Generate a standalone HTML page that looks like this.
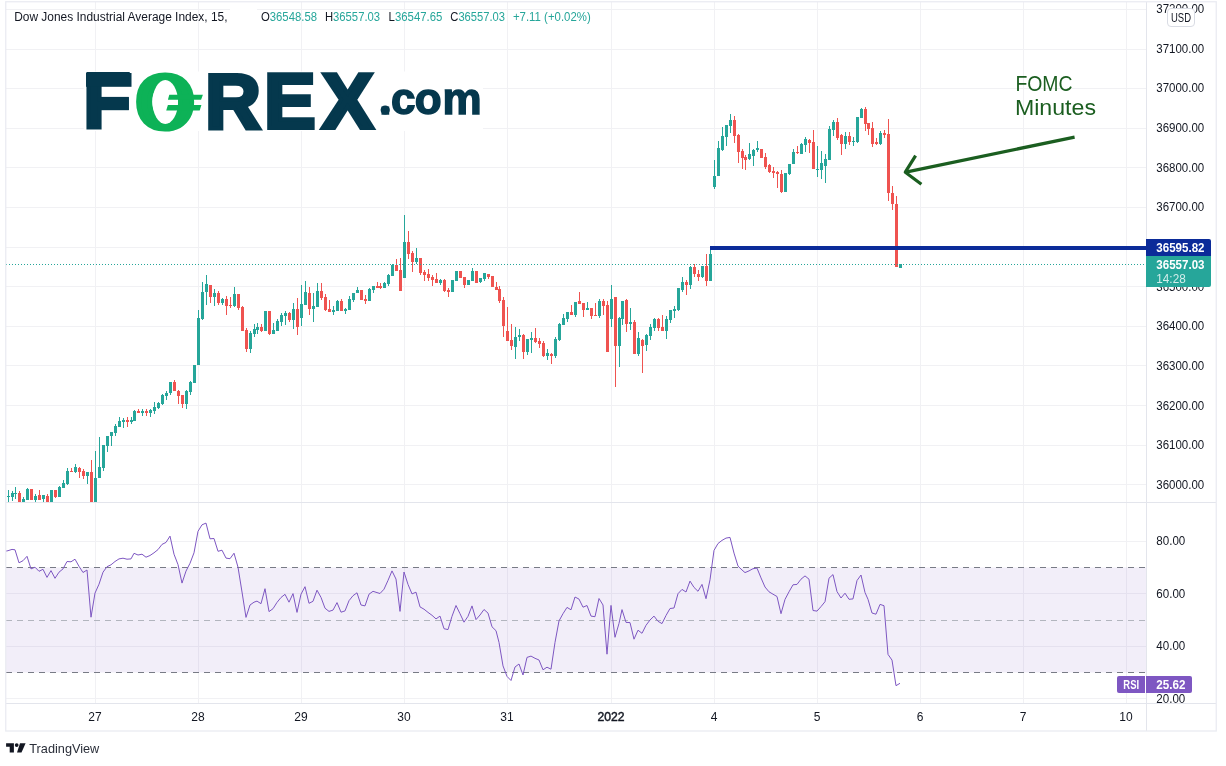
<!DOCTYPE html>
<html><head><meta charset="utf-8"><title>Dow Jones Industrial Average Index chart</title>
<style>html,body{margin:0;padding:0;background:#fff}svg{display:block}</style></head>
<body>
<svg width="1226" height="766" viewBox="0 0 1226 766" font-family="'Liberation Sans', sans-serif">
<rect width="1226" height="766" fill="#fff"/>
<g shape-rendering="crispEdges" stroke="#f1f1f4" stroke-width="1">
<line x1="95.5" y1="2" x2="95.5" y2="703"/>
<line x1="198.5" y1="2" x2="198.5" y2="703"/>
<line x1="301.5" y1="2" x2="301.5" y2="703"/>
<line x1="404.5" y1="2" x2="404.5" y2="703"/>
<line x1="507.5" y1="2" x2="507.5" y2="703"/>
<line x1="611.5" y1="2" x2="611.5" y2="703"/>
<line x1="714.5" y1="2" x2="714.5" y2="703"/>
<line x1="817.5" y1="2" x2="817.5" y2="703"/>
<line x1="920.5" y1="2" x2="920.5" y2="703"/>
<line x1="1023.5" y1="2" x2="1023.5" y2="703"/>
<line x1="1126.5" y1="2" x2="1126.5" y2="703"/>
<line x1="6" y1="484.5" x2="1146" y2="484.5"/>
<line x1="6" y1="445.5" x2="1146" y2="445.5"/>
<line x1="6" y1="405.5" x2="1146" y2="405.5"/>
<line x1="6" y1="365.5" x2="1146" y2="365.5"/>
<line x1="6" y1="326.5" x2="1146" y2="326.5"/>
<line x1="6" y1="286.5" x2="1146" y2="286.5"/>
<line x1="6" y1="247.5" x2="1146" y2="247.5"/>
<line x1="6" y1="207.5" x2="1146" y2="207.5"/>
<line x1="6" y1="167.5" x2="1146" y2="167.5"/>
<line x1="6" y1="128.5" x2="1146" y2="128.5"/>
<line x1="6" y1="88.5" x2="1146" y2="88.5"/>
<line x1="6" y1="49.5" x2="1146" y2="49.5"/>
<line x1="6" y1="9.5" x2="1146" y2="9.5"/>
<line x1="6" y1="698.5" x2="1146" y2="698.5"/>
<line x1="6" y1="646.5" x2="1146" y2="646.5"/>
<line x1="6" y1="593.5" x2="1146" y2="593.5"/>
<line x1="6" y1="541.5" x2="1146" y2="541.5"/>
</g>
<rect x="6" y="567.5" width="1140" height="105" fill="#7e57c2" fill-opacity="0.1"/>
<g shape-rendering="crispEdges" stroke-width="1" stroke-dasharray="6 5">
<line x1="6" y1="567.5" x2="1146" y2="567.5" stroke="#787b86"/>
<line x1="6" y1="620.5" x2="1146" y2="620.5" stroke="#b2b5be"/>
<line x1="6" y1="672.5" x2="1146" y2="672.5" stroke="#787b86"/>
</g>
<rect x="83.7" y="71.5" width="399.3" height="59.5" fill="#fff"/>
<g font-weight="bold" stroke-linejoin="miter">
<text y="128.2" font-size="77.5" fill="#05384d" stroke="#05384d" stroke-width="4"><tspan x="83.2" textLength="48">F</tspan><tspan x="135.5" y="127.85" font-size="76.3" stroke-width="5" fill="#0db257" stroke="#0db257">O</tspan><tspan x="205" y="128.2">R</tspan><tspan x="263.9">E</tspan><tspan x="321.8">X</tspan></text>
<ellipse cx="165.3" cy="102" rx="12.7" ry="22" fill="#fff"/>
<path d="M169.3 94.8H202.9L201.1 99.8H167.9zM167.9 105.1H201.4L199.7 110.4H166.2z" fill="#0db257"/>
<rect x="86" y="73" width="45.5" height="13.8" fill="#05384d"/><rect x="100" y="96.9" width="28.8" height="13.3" fill="#05384d"/>
<text x="379.2 391 414.7 442.6" y="114.2" font-size="44" fill="#05384d" stroke="#05384d" stroke-width="1.5">.com</text>
<circle cx="385.2" cy="110" r="4.6" fill="#05384d"/>
</g>
<g shape-rendering="crispEdges">
<rect x="8" y="490" width="1" height="12" fill="#26a69a"/>
<rect x="7" y="496" width="3" height="1" fill="#26a69a"/>
<rect x="12" y="491" width="1" height="10" fill="#26a69a"/>
<rect x="11" y="493" width="3" height="4" fill="#26a69a"/>
<rect x="15" y="487" width="1" height="12" fill="#26a69a"/>
<rect x="14" y="493" width="3" height="1" fill="#26a69a"/>
<rect x="19" y="491" width="1" height="11" fill="#ef5350"/>
<rect x="18" y="493" width="3" height="9" fill="#ef5350"/>
<rect x="23" y="497" width="1" height="5" fill="#26a69a"/>
<rect x="22" y="499" width="3" height="3" fill="#26a69a"/>
<rect x="27" y="488" width="1" height="12" fill="#26a69a"/>
<rect x="26" y="489" width="3" height="11" fill="#26a69a"/>
<rect x="31" y="489" width="1" height="11" fill="#ef5350"/>
<rect x="30" y="489" width="3" height="11" fill="#ef5350"/>
<rect x="35" y="494" width="1" height="8" fill="#26a69a"/>
<rect x="34" y="496" width="3" height="4" fill="#26a69a"/>
<rect x="39" y="490" width="1" height="10" fill="#ef5350"/>
<rect x="38" y="495" width="3" height="5" fill="#ef5350"/>
<rect x="43" y="495" width="1" height="7" fill="#26a69a"/>
<rect x="42" y="495" width="3" height="4" fill="#26a69a"/>
<rect x="47" y="494" width="1" height="8" fill="#ef5350"/>
<rect x="46" y="496" width="3" height="6" fill="#ef5350"/>
<rect x="51" y="490" width="1" height="12" fill="#26a69a"/>
<rect x="50" y="490" width="3" height="12" fill="#26a69a"/>
<rect x="55" y="490" width="1" height="8" fill="#ef5350"/>
<rect x="54" y="490" width="3" height="7" fill="#ef5350"/>
<rect x="59" y="486" width="1" height="11" fill="#26a69a"/>
<rect x="58" y="487" width="3" height="10" fill="#26a69a"/>
<rect x="63" y="480" width="1" height="8" fill="#26a69a"/>
<rect x="62" y="483" width="3" height="5" fill="#26a69a"/>
<rect x="67" y="468" width="1" height="17" fill="#26a69a"/>
<rect x="66" y="471" width="3" height="13" fill="#26a69a"/>
<rect x="71" y="468" width="1" height="4" fill="#ef5350"/>
<rect x="70" y="471" width="3" height="1" fill="#ef5350"/>
<rect x="75" y="464" width="1" height="9" fill="#26a69a"/>
<rect x="74" y="467" width="3" height="5" fill="#26a69a"/>
<rect x="79" y="467" width="1" height="11" fill="#ef5350"/>
<rect x="78" y="468" width="3" height="4" fill="#ef5350"/>
<rect x="83" y="469" width="1" height="10" fill="#ef5350"/>
<rect x="82" y="471" width="3" height="5" fill="#ef5350"/>
<rect x="87" y="472" width="1" height="12" fill="#26a69a"/>
<rect x="86" y="472" width="3" height="4" fill="#26a69a"/>
<rect x="91" y="460" width="1" height="42" fill="#ef5350"/>
<rect x="90" y="472" width="3" height="30" fill="#ef5350"/>
<rect x="95" y="451" width="1" height="51" fill="#26a69a"/>
<rect x="94" y="478" width="3" height="24" fill="#26a69a"/>
<rect x="99" y="437" width="1" height="41" fill="#26a69a"/>
<rect x="98" y="467" width="3" height="11" fill="#26a69a"/>
<rect x="103" y="445" width="1" height="26" fill="#26a69a"/>
<rect x="102" y="445" width="3" height="23" fill="#26a69a"/>
<rect x="107" y="436" width="1" height="16" fill="#26a69a"/>
<rect x="106" y="436" width="3" height="10" fill="#26a69a"/>
<rect x="111" y="432" width="1" height="14" fill="#26a69a"/>
<rect x="110" y="432" width="3" height="4" fill="#26a69a"/>
<rect x="115" y="424" width="1" height="12" fill="#26a69a"/>
<rect x="114" y="426" width="3" height="7" fill="#26a69a"/>
<rect x="119" y="417" width="1" height="10" fill="#26a69a"/>
<rect x="118" y="421" width="3" height="6" fill="#26a69a"/>
<rect x="123" y="418" width="1" height="10" fill="#26a69a"/>
<rect x="122" y="420" width="3" height="2" fill="#26a69a"/>
<rect x="127" y="417" width="1" height="10" fill="#ef5350"/>
<rect x="126" y="420" width="3" height="2" fill="#ef5350"/>
<rect x="131" y="417" width="1" height="7" fill="#26a69a"/>
<rect x="130" y="420" width="3" height="2" fill="#26a69a"/>
<rect x="134" y="410" width="1" height="11" fill="#26a69a"/>
<rect x="133" y="411" width="3" height="10" fill="#26a69a"/>
<rect x="138" y="409" width="1" height="4" fill="#ef5350"/>
<rect x="137" y="411" width="3" height="2" fill="#ef5350"/>
<rect x="142" y="409" width="1" height="7" fill="#26a69a"/>
<rect x="141" y="411" width="3" height="2" fill="#26a69a"/>
<rect x="146" y="409" width="1" height="7" fill="#ef5350"/>
<rect x="145" y="411" width="3" height="2" fill="#ef5350"/>
<rect x="150" y="409" width="1" height="8" fill="#26a69a"/>
<rect x="149" y="410" width="3" height="3" fill="#26a69a"/>
<rect x="154" y="402" width="1" height="12" fill="#26a69a"/>
<rect x="153" y="407" width="3" height="4" fill="#26a69a"/>
<rect x="158" y="402" width="1" height="7" fill="#26a69a"/>
<rect x="157" y="403" width="3" height="5" fill="#26a69a"/>
<rect x="162" y="394" width="1" height="11" fill="#26a69a"/>
<rect x="161" y="395" width="3" height="9" fill="#26a69a"/>
<rect x="166" y="391" width="1" height="9" fill="#26a69a"/>
<rect x="165" y="393" width="3" height="3" fill="#26a69a"/>
<rect x="170" y="382" width="1" height="13" fill="#26a69a"/>
<rect x="169" y="382" width="3" height="11" fill="#26a69a"/>
<rect x="174" y="380" width="1" height="11" fill="#ef5350"/>
<rect x="173" y="382" width="3" height="9" fill="#ef5350"/>
<rect x="178" y="390" width="1" height="14" fill="#ef5350"/>
<rect x="177" y="391" width="3" height="5" fill="#ef5350"/>
<rect x="182" y="395" width="1" height="13" fill="#ef5350"/>
<rect x="181" y="395" width="3" height="9" fill="#ef5350"/>
<rect x="186" y="390" width="1" height="19" fill="#26a69a"/>
<rect x="185" y="391" width="3" height="13" fill="#26a69a"/>
<rect x="190" y="381" width="1" height="14" fill="#26a69a"/>
<rect x="189" y="382" width="3" height="10" fill="#26a69a"/>
<rect x="194" y="365" width="1" height="18" fill="#26a69a"/>
<rect x="193" y="365" width="3" height="18" fill="#26a69a"/>
<rect x="198" y="310" width="1" height="55" fill="#26a69a"/>
<rect x="197" y="318" width="3" height="47" fill="#26a69a"/>
<rect x="202" y="282" width="1" height="38" fill="#26a69a"/>
<rect x="201" y="292" width="3" height="27" fill="#26a69a"/>
<rect x="206" y="275" width="1" height="30" fill="#26a69a"/>
<rect x="205" y="284" width="3" height="8" fill="#26a69a"/>
<rect x="210" y="285" width="1" height="18" fill="#ef5350"/>
<rect x="209" y="285" width="3" height="12" fill="#ef5350"/>
<rect x="214" y="289" width="1" height="17" fill="#26a69a"/>
<rect x="213" y="293" width="3" height="4" fill="#26a69a"/>
<rect x="218" y="291" width="1" height="14" fill="#ef5350"/>
<rect x="217" y="293" width="3" height="10" fill="#ef5350"/>
<rect x="222" y="298" width="1" height="7" fill="#26a69a"/>
<rect x="221" y="299" width="3" height="4" fill="#26a69a"/>
<rect x="226" y="296" width="1" height="19" fill="#ef5350"/>
<rect x="225" y="299" width="3" height="7" fill="#ef5350"/>
<rect x="230" y="297" width="1" height="11" fill="#ef5350"/>
<rect x="229" y="305" width="3" height="1" fill="#ef5350"/>
<rect x="234" y="287" width="1" height="20" fill="#26a69a"/>
<rect x="233" y="294" width="3" height="12" fill="#26a69a"/>
<rect x="238" y="294" width="1" height="16" fill="#ef5350"/>
<rect x="237" y="294" width="3" height="14" fill="#ef5350"/>
<rect x="242" y="306" width="1" height="25" fill="#ef5350"/>
<rect x="241" y="307" width="3" height="24" fill="#ef5350"/>
<rect x="246" y="328" width="1" height="24" fill="#ef5350"/>
<rect x="245" y="330" width="3" height="19" fill="#ef5350"/>
<rect x="250" y="331" width="1" height="22" fill="#26a69a"/>
<rect x="249" y="333" width="3" height="16" fill="#26a69a"/>
<rect x="254" y="324" width="1" height="13" fill="#26a69a"/>
<rect x="253" y="329" width="3" height="5" fill="#26a69a"/>
<rect x="257" y="323" width="1" height="11" fill="#26a69a"/>
<rect x="256" y="327" width="3" height="3" fill="#26a69a"/>
<rect x="261" y="324" width="1" height="8" fill="#ef5350"/>
<rect x="260" y="327" width="3" height="4" fill="#ef5350"/>
<rect x="265" y="311" width="1" height="20" fill="#26a69a"/>
<rect x="264" y="311" width="3" height="20" fill="#26a69a"/>
<rect x="269" y="311" width="1" height="24" fill="#ef5350"/>
<rect x="268" y="311" width="3" height="23" fill="#ef5350"/>
<rect x="273" y="323" width="1" height="11" fill="#26a69a"/>
<rect x="272" y="330" width="3" height="4" fill="#26a69a"/>
<rect x="277" y="319" width="1" height="12" fill="#26a69a"/>
<rect x="276" y="321" width="3" height="10" fill="#26a69a"/>
<rect x="281" y="313" width="1" height="13" fill="#26a69a"/>
<rect x="280" y="315" width="3" height="7" fill="#26a69a"/>
<rect x="285" y="311" width="1" height="14" fill="#26a69a"/>
<rect x="284" y="313" width="3" height="3" fill="#26a69a"/>
<rect x="289" y="312" width="1" height="10" fill="#ef5350"/>
<rect x="288" y="313" width="3" height="7" fill="#ef5350"/>
<rect x="293" y="303" width="1" height="26" fill="#26a69a"/>
<rect x="292" y="309" width="3" height="11" fill="#26a69a"/>
<rect x="297" y="298" width="1" height="37" fill="#ef5350"/>
<rect x="296" y="309" width="3" height="18" fill="#ef5350"/>
<rect x="301" y="285" width="1" height="41" fill="#26a69a"/>
<rect x="300" y="304" width="3" height="14" fill="#26a69a"/>
<rect x="305" y="281" width="1" height="24" fill="#26a69a"/>
<rect x="304" y="292" width="3" height="13" fill="#26a69a"/>
<rect x="309" y="287" width="1" height="28" fill="#ef5350"/>
<rect x="308" y="293" width="3" height="16" fill="#ef5350"/>
<rect x="313" y="293" width="1" height="29" fill="#26a69a"/>
<rect x="312" y="306" width="3" height="3" fill="#26a69a"/>
<rect x="317" y="283" width="1" height="24" fill="#26a69a"/>
<rect x="316" y="291" width="3" height="16" fill="#26a69a"/>
<rect x="321" y="283" width="1" height="17" fill="#ef5350"/>
<rect x="320" y="291" width="3" height="7" fill="#ef5350"/>
<rect x="325" y="294" width="1" height="17" fill="#ef5350"/>
<rect x="324" y="297" width="3" height="13" fill="#ef5350"/>
<rect x="329" y="300" width="1" height="12" fill="#ef5350"/>
<rect x="328" y="309" width="3" height="3" fill="#ef5350"/>
<rect x="333" y="306" width="1" height="9" fill="#26a69a"/>
<rect x="332" y="310" width="3" height="2" fill="#26a69a"/>
<rect x="337" y="300" width="1" height="11" fill="#26a69a"/>
<rect x="336" y="301" width="3" height="10" fill="#26a69a"/>
<rect x="341" y="299" width="1" height="12" fill="#ef5350"/>
<rect x="340" y="301" width="3" height="10" fill="#ef5350"/>
<rect x="345" y="308" width="1" height="6" fill="#26a69a"/>
<rect x="344" y="309" width="3" height="2" fill="#26a69a"/>
<rect x="349" y="296" width="1" height="14" fill="#26a69a"/>
<rect x="348" y="299" width="3" height="11" fill="#26a69a"/>
<rect x="353" y="293" width="1" height="9" fill="#26a69a"/>
<rect x="352" y="293" width="3" height="7" fill="#26a69a"/>
<rect x="357" y="287" width="1" height="6" fill="#26a69a"/>
<rect x="356" y="290" width="3" height="3" fill="#26a69a"/>
<rect x="361" y="290" width="1" height="10" fill="#ef5350"/>
<rect x="360" y="290" width="3" height="10" fill="#ef5350"/>
<rect x="365" y="295" width="1" height="9" fill="#ef5350"/>
<rect x="364" y="299" width="3" height="2" fill="#ef5350"/>
<rect x="369" y="288" width="1" height="13" fill="#26a69a"/>
<rect x="368" y="289" width="3" height="12" fill="#26a69a"/>
<rect x="373" y="286" width="1" height="7" fill="#26a69a"/>
<rect x="372" y="286" width="3" height="4" fill="#26a69a"/>
<rect x="377" y="282" width="1" height="6" fill="#ef5350"/>
<rect x="376" y="286" width="3" height="2" fill="#ef5350"/>
<rect x="380" y="283" width="1" height="6" fill="#ef5350"/>
<rect x="379" y="286" width="3" height="2" fill="#ef5350"/>
<rect x="384" y="282" width="1" height="6" fill="#26a69a"/>
<rect x="383" y="283" width="3" height="5" fill="#26a69a"/>
<rect x="388" y="274" width="1" height="12" fill="#26a69a"/>
<rect x="387" y="275" width="3" height="9" fill="#26a69a"/>
<rect x="392" y="264" width="1" height="12" fill="#26a69a"/>
<rect x="391" y="265" width="3" height="11" fill="#26a69a"/>
<rect x="396" y="259" width="1" height="12" fill="#ef5350"/>
<rect x="395" y="265" width="3" height="6" fill="#ef5350"/>
<rect x="400" y="258" width="1" height="33" fill="#ef5350"/>
<rect x="399" y="270" width="3" height="21" fill="#ef5350"/>
<rect x="404" y="215" width="1" height="63" fill="#26a69a"/>
<rect x="403" y="242" width="3" height="36" fill="#26a69a"/>
<rect x="408" y="231" width="1" height="28" fill="#ef5350"/>
<rect x="407" y="242" width="3" height="12" fill="#ef5350"/>
<rect x="412" y="251" width="1" height="21" fill="#ef5350"/>
<rect x="411" y="253" width="3" height="9" fill="#ef5350"/>
<rect x="416" y="248" width="1" height="16" fill="#26a69a"/>
<rect x="415" y="258" width="3" height="4" fill="#26a69a"/>
<rect x="420" y="258" width="1" height="17" fill="#ef5350"/>
<rect x="419" y="258" width="3" height="15" fill="#ef5350"/>
<rect x="424" y="270" width="1" height="11" fill="#ef5350"/>
<rect x="423" y="272" width="3" height="3" fill="#ef5350"/>
<rect x="428" y="269" width="1" height="12" fill="#ef5350"/>
<rect x="427" y="274" width="3" height="4" fill="#ef5350"/>
<rect x="432" y="275" width="1" height="11" fill="#ef5350"/>
<rect x="431" y="277" width="3" height="3" fill="#ef5350"/>
<rect x="436" y="273" width="1" height="10" fill="#ef5350"/>
<rect x="435" y="279" width="3" height="4" fill="#ef5350"/>
<rect x="440" y="279" width="1" height="6" fill="#26a69a"/>
<rect x="439" y="280" width="3" height="3" fill="#26a69a"/>
<rect x="444" y="279" width="1" height="13" fill="#ef5350"/>
<rect x="443" y="280" width="3" height="11" fill="#ef5350"/>
<rect x="448" y="288" width="1" height="9" fill="#ef5350"/>
<rect x="447" y="290" width="3" height="2" fill="#ef5350"/>
<rect x="452" y="280" width="1" height="12" fill="#26a69a"/>
<rect x="451" y="280" width="3" height="12" fill="#26a69a"/>
<rect x="456" y="271" width="1" height="10" fill="#26a69a"/>
<rect x="455" y="271" width="3" height="10" fill="#26a69a"/>
<rect x="460" y="271" width="1" height="7" fill="#ef5350"/>
<rect x="459" y="271" width="3" height="7" fill="#ef5350"/>
<rect x="464" y="277" width="1" height="11" fill="#ef5350"/>
<rect x="463" y="277" width="3" height="8" fill="#ef5350"/>
<rect x="468" y="280" width="1" height="5" fill="#26a69a"/>
<rect x="467" y="280" width="3" height="5" fill="#26a69a"/>
<rect x="472" y="268" width="1" height="13" fill="#26a69a"/>
<rect x="471" y="271" width="3" height="10" fill="#26a69a"/>
<rect x="476" y="271" width="1" height="12" fill="#ef5350"/>
<rect x="475" y="271" width="3" height="12" fill="#ef5350"/>
<rect x="480" y="278" width="1" height="5" fill="#26a69a"/>
<rect x="479" y="278" width="3" height="4" fill="#26a69a"/>
<rect x="484" y="273" width="1" height="8" fill="#26a69a"/>
<rect x="483" y="273" width="3" height="6" fill="#26a69a"/>
<rect x="488" y="274" width="1" height="5" fill="#ef5350"/>
<rect x="487" y="274" width="3" height="3" fill="#ef5350"/>
<rect x="492" y="276" width="1" height="11" fill="#ef5350"/>
<rect x="491" y="276" width="3" height="11" fill="#ef5350"/>
<rect x="496" y="282" width="1" height="8" fill="#ef5350"/>
<rect x="495" y="287" width="3" height="3" fill="#ef5350"/>
<rect x="499" y="286" width="1" height="17" fill="#ef5350"/>
<rect x="498" y="289" width="3" height="12" fill="#ef5350"/>
<rect x="503" y="297" width="1" height="40" fill="#ef5350"/>
<rect x="502" y="300" width="3" height="26" fill="#ef5350"/>
<rect x="507" y="307" width="1" height="34" fill="#ef5350"/>
<rect x="506" y="331" width="3" height="10" fill="#ef5350"/>
<rect x="511" y="324" width="1" height="26" fill="#ef5350"/>
<rect x="510" y="340" width="3" height="6" fill="#ef5350"/>
<rect x="515" y="327" width="1" height="32" fill="#26a69a"/>
<rect x="514" y="337" width="3" height="10" fill="#26a69a"/>
<rect x="519" y="329" width="1" height="12" fill="#26a69a"/>
<rect x="518" y="335" width="3" height="2" fill="#26a69a"/>
<rect x="523" y="334" width="1" height="25" fill="#ef5350"/>
<rect x="522" y="335" width="3" height="17" fill="#ef5350"/>
<rect x="527" y="339" width="1" height="16" fill="#26a69a"/>
<rect x="526" y="339" width="3" height="13" fill="#26a69a"/>
<rect x="531" y="332" width="1" height="21" fill="#26a69a"/>
<rect x="530" y="338" width="3" height="2" fill="#26a69a"/>
<rect x="535" y="328" width="1" height="15" fill="#ef5350"/>
<rect x="534" y="338" width="3" height="4" fill="#ef5350"/>
<rect x="539" y="338" width="1" height="10" fill="#ef5350"/>
<rect x="538" y="341" width="3" height="3" fill="#ef5350"/>
<rect x="543" y="341" width="1" height="16" fill="#ef5350"/>
<rect x="542" y="343" width="3" height="13" fill="#ef5350"/>
<rect x="547" y="349" width="1" height="11" fill="#26a69a"/>
<rect x="546" y="353" width="3" height="3" fill="#26a69a"/>
<rect x="551" y="353" width="1" height="11" fill="#ef5350"/>
<rect x="550" y="354" width="3" height="2" fill="#ef5350"/>
<rect x="555" y="337" width="1" height="21" fill="#26a69a"/>
<rect x="554" y="339" width="3" height="17" fill="#26a69a"/>
<rect x="559" y="323" width="1" height="18" fill="#26a69a"/>
<rect x="558" y="324" width="3" height="16" fill="#26a69a"/>
<rect x="563" y="314" width="1" height="11" fill="#26a69a"/>
<rect x="562" y="318" width="3" height="7" fill="#26a69a"/>
<rect x="567" y="312" width="1" height="10" fill="#26a69a"/>
<rect x="566" y="312" width="3" height="7" fill="#26a69a"/>
<rect x="571" y="305" width="1" height="10" fill="#ef5350"/>
<rect x="570" y="312" width="3" height="3" fill="#ef5350"/>
<rect x="575" y="302" width="1" height="15" fill="#26a69a"/>
<rect x="574" y="302" width="3" height="13" fill="#26a69a"/>
<rect x="579" y="292" width="1" height="12" fill="#ef5350"/>
<rect x="578" y="301" width="3" height="3" fill="#ef5350"/>
<rect x="583" y="303" width="1" height="14" fill="#ef5350"/>
<rect x="582" y="303" width="3" height="7" fill="#ef5350"/>
<rect x="587" y="302" width="1" height="8" fill="#26a69a"/>
<rect x="586" y="308" width="3" height="2" fill="#26a69a"/>
<rect x="591" y="308" width="1" height="11" fill="#ef5350"/>
<rect x="590" y="308" width="3" height="8" fill="#ef5350"/>
<rect x="595" y="303" width="1" height="13" fill="#ef5350"/>
<rect x="594" y="315" width="3" height="1" fill="#ef5350"/>
<rect x="599" y="299" width="1" height="19" fill="#26a69a"/>
<rect x="598" y="301" width="3" height="15" fill="#26a69a"/>
<rect x="603" y="299" width="1" height="16" fill="#ef5350"/>
<rect x="602" y="301" width="3" height="5" fill="#ef5350"/>
<rect x="607" y="301" width="1" height="51" fill="#ef5350"/>
<rect x="606" y="305" width="3" height="47" fill="#ef5350"/>
<rect x="611" y="285" width="1" height="42" fill="#26a69a"/>
<rect x="610" y="299" width="3" height="20" fill="#26a69a"/>
<rect x="615" y="297" width="1" height="90" fill="#ef5350"/>
<rect x="614" y="297" width="3" height="49" fill="#ef5350"/>
<rect x="619" y="317" width="1" height="50" fill="#26a69a"/>
<rect x="618" y="318" width="3" height="28" fill="#26a69a"/>
<rect x="622" y="301" width="1" height="24" fill="#26a69a"/>
<rect x="621" y="301" width="3" height="18" fill="#26a69a"/>
<rect x="626" y="299" width="1" height="33" fill="#ef5350"/>
<rect x="625" y="300" width="3" height="24" fill="#ef5350"/>
<rect x="630" y="308" width="1" height="22" fill="#26a69a"/>
<rect x="629" y="322" width="3" height="2" fill="#26a69a"/>
<rect x="634" y="320" width="1" height="34" fill="#ef5350"/>
<rect x="633" y="322" width="3" height="32" fill="#ef5350"/>
<rect x="638" y="332" width="1" height="24" fill="#26a69a"/>
<rect x="637" y="338" width="3" height="16" fill="#26a69a"/>
<rect x="642" y="339" width="1" height="34" fill="#ef5350"/>
<rect x="641" y="340" width="3" height="6" fill="#ef5350"/>
<rect x="646" y="334" width="1" height="17" fill="#26a69a"/>
<rect x="645" y="335" width="3" height="10" fill="#26a69a"/>
<rect x="650" y="324" width="1" height="16" fill="#26a69a"/>
<rect x="649" y="327" width="3" height="9" fill="#26a69a"/>
<rect x="654" y="318" width="1" height="13" fill="#26a69a"/>
<rect x="653" y="319" width="3" height="9" fill="#26a69a"/>
<rect x="658" y="318" width="1" height="13" fill="#ef5350"/>
<rect x="657" y="319" width="3" height="9" fill="#ef5350"/>
<rect x="662" y="315" width="1" height="16" fill="#ef5350"/>
<rect x="661" y="327" width="3" height="4" fill="#ef5350"/>
<rect x="666" y="316" width="1" height="23" fill="#26a69a"/>
<rect x="665" y="319" width="3" height="12" fill="#26a69a"/>
<rect x="670" y="310" width="1" height="13" fill="#26a69a"/>
<rect x="669" y="310" width="3" height="10" fill="#26a69a"/>
<rect x="674" y="306" width="1" height="12" fill="#26a69a"/>
<rect x="673" y="309" width="3" height="2" fill="#26a69a"/>
<rect x="678" y="288" width="1" height="23" fill="#26a69a"/>
<rect x="677" y="288" width="3" height="22" fill="#26a69a"/>
<rect x="682" y="277" width="1" height="15" fill="#26a69a"/>
<rect x="681" y="282" width="3" height="8" fill="#26a69a"/>
<rect x="686" y="280" width="1" height="15" fill="#ef5350"/>
<rect x="685" y="282" width="3" height="3" fill="#ef5350"/>
<rect x="690" y="266" width="1" height="23" fill="#26a69a"/>
<rect x="689" y="267" width="3" height="18" fill="#26a69a"/>
<rect x="694" y="264" width="1" height="13" fill="#ef5350"/>
<rect x="693" y="267" width="3" height="7" fill="#ef5350"/>
<rect x="698" y="270" width="1" height="11" fill="#ef5350"/>
<rect x="697" y="274" width="3" height="3" fill="#ef5350"/>
<rect x="702" y="266" width="1" height="12" fill="#26a69a"/>
<rect x="701" y="266" width="3" height="11" fill="#26a69a"/>
<rect x="706" y="254" width="1" height="32" fill="#ef5350"/>
<rect x="705" y="266" width="3" height="15" fill="#ef5350"/>
<rect x="710" y="248" width="1" height="33" fill="#26a69a"/>
<rect x="709" y="254" width="3" height="27" fill="#26a69a"/>
<rect x="714" y="160" width="1" height="29" fill="#26a69a"/>
<rect x="713" y="176" width="3" height="11" fill="#26a69a"/>
<rect x="718" y="141" width="1" height="35" fill="#26a69a"/>
<rect x="717" y="148" width="3" height="28" fill="#26a69a"/>
<rect x="722" y="127" width="1" height="24" fill="#26a69a"/>
<rect x="721" y="136" width="3" height="14" fill="#26a69a"/>
<rect x="726" y="125" width="1" height="21" fill="#26a69a"/>
<rect x="725" y="125" width="3" height="12" fill="#26a69a"/>
<rect x="730" y="114" width="1" height="19" fill="#26a69a"/>
<rect x="729" y="120" width="3" height="6" fill="#26a69a"/>
<rect x="734" y="116" width="1" height="27" fill="#ef5350"/>
<rect x="733" y="120" width="3" height="16" fill="#ef5350"/>
<rect x="738" y="134" width="1" height="29" fill="#ef5350"/>
<rect x="737" y="135" width="3" height="17" fill="#ef5350"/>
<rect x="742" y="149" width="1" height="20" fill="#ef5350"/>
<rect x="741" y="151" width="3" height="7" fill="#ef5350"/>
<rect x="745" y="155" width="1" height="15" fill="#ef5350"/>
<rect x="744" y="157" width="3" height="3" fill="#ef5350"/>
<rect x="749" y="143" width="1" height="17" fill="#26a69a"/>
<rect x="748" y="154" width="3" height="5" fill="#26a69a"/>
<rect x="753" y="149" width="1" height="17" fill="#26a69a"/>
<rect x="752" y="150" width="3" height="6" fill="#26a69a"/>
<rect x="757" y="141" width="1" height="11" fill="#26a69a"/>
<rect x="756" y="148" width="3" height="2" fill="#26a69a"/>
<rect x="761" y="149" width="1" height="9" fill="#ef5350"/>
<rect x="760" y="149" width="3" height="9" fill="#ef5350"/>
<rect x="765" y="153" width="1" height="16" fill="#ef5350"/>
<rect x="764" y="157" width="3" height="10" fill="#ef5350"/>
<rect x="769" y="164" width="1" height="9" fill="#ef5350"/>
<rect x="768" y="165" width="3" height="7" fill="#ef5350"/>
<rect x="773" y="167" width="1" height="11" fill="#ef5350"/>
<rect x="772" y="171" width="3" height="2" fill="#ef5350"/>
<rect x="777" y="171" width="1" height="17" fill="#ef5350"/>
<rect x="776" y="172" width="3" height="2" fill="#ef5350"/>
<rect x="781" y="170" width="1" height="23" fill="#ef5350"/>
<rect x="780" y="174" width="3" height="18" fill="#ef5350"/>
<rect x="785" y="173" width="1" height="19" fill="#26a69a"/>
<rect x="784" y="173" width="3" height="19" fill="#26a69a"/>
<rect x="789" y="164" width="1" height="11" fill="#26a69a"/>
<rect x="788" y="164" width="3" height="10" fill="#26a69a"/>
<rect x="793" y="149" width="1" height="15" fill="#26a69a"/>
<rect x="792" y="152" width="3" height="12" fill="#26a69a"/>
<rect x="797" y="146" width="1" height="8" fill="#ef5350"/>
<rect x="796" y="152" width="3" height="1" fill="#ef5350"/>
<rect x="801" y="143" width="1" height="11" fill="#26a69a"/>
<rect x="800" y="144" width="3" height="10" fill="#26a69a"/>
<rect x="805" y="137" width="1" height="15" fill="#26a69a"/>
<rect x="804" y="139" width="3" height="6" fill="#26a69a"/>
<rect x="809" y="139" width="1" height="14" fill="#ef5350"/>
<rect x="808" y="140" width="3" height="3" fill="#ef5350"/>
<rect x="813" y="130" width="1" height="39" fill="#ef5350"/>
<rect x="812" y="142" width="3" height="27" fill="#ef5350"/>
<rect x="817" y="146" width="1" height="31" fill="#26a69a"/>
<rect x="816" y="169" width="3" height="1" fill="#26a69a"/>
<rect x="821" y="151" width="1" height="28" fill="#26a69a"/>
<rect x="820" y="163" width="3" height="7" fill="#26a69a"/>
<rect x="825" y="154" width="1" height="29" fill="#26a69a"/>
<rect x="824" y="159" width="3" height="7" fill="#26a69a"/>
<rect x="829" y="126" width="1" height="34" fill="#26a69a"/>
<rect x="828" y="129" width="3" height="31" fill="#26a69a"/>
<rect x="833" y="120" width="1" height="16" fill="#26a69a"/>
<rect x="832" y="122" width="3" height="8" fill="#26a69a"/>
<rect x="837" y="118" width="1" height="22" fill="#ef5350"/>
<rect x="836" y="122" width="3" height="16" fill="#ef5350"/>
<rect x="841" y="134" width="1" height="21" fill="#ef5350"/>
<rect x="840" y="135" width="3" height="9" fill="#ef5350"/>
<rect x="845" y="132" width="1" height="17" fill="#26a69a"/>
<rect x="844" y="136" width="3" height="8" fill="#26a69a"/>
<rect x="849" y="132" width="1" height="13" fill="#ef5350"/>
<rect x="848" y="136" width="3" height="6" fill="#ef5350"/>
<rect x="853" y="137" width="1" height="9" fill="#26a69a"/>
<rect x="852" y="141" width="3" height="1" fill="#26a69a"/>
<rect x="857" y="117" width="1" height="26" fill="#26a69a"/>
<rect x="856" y="117" width="3" height="25" fill="#26a69a"/>
<rect x="861" y="108" width="1" height="10" fill="#26a69a"/>
<rect x="860" y="109" width="3" height="9" fill="#26a69a"/>
<rect x="865" y="107" width="1" height="24" fill="#ef5350"/>
<rect x="864" y="109" width="3" height="15" fill="#ef5350"/>
<rect x="868" y="123" width="1" height="12" fill="#ef5350"/>
<rect x="867" y="123" width="3" height="6" fill="#ef5350"/>
<rect x="872" y="122" width="1" height="25" fill="#ef5350"/>
<rect x="871" y="128" width="3" height="16" fill="#ef5350"/>
<rect x="876" y="138" width="1" height="7" fill="#ef5350"/>
<rect x="875" y="142" width="3" height="2" fill="#ef5350"/>
<rect x="880" y="131" width="1" height="14" fill="#26a69a"/>
<rect x="879" y="133" width="3" height="11" fill="#26a69a"/>
<rect x="884" y="130" width="1" height="8" fill="#ef5350"/>
<rect x="883" y="133" width="3" height="2" fill="#ef5350"/>
<rect x="888" y="119" width="1" height="82" fill="#ef5350"/>
<rect x="887" y="134" width="3" height="59" fill="#ef5350"/>
<rect x="892" y="186" width="1" height="24" fill="#ef5350"/>
<rect x="891" y="193" width="3" height="11" fill="#ef5350"/>
<rect x="896" y="196" width="1" height="71" fill="#ef5350"/>
<rect x="895" y="204" width="3" height="63" fill="#ef5350"/>
<rect x="900" y="264" width="1" height="4" fill="#26a69a"/>
<rect x="899" y="264" width="3" height="4" fill="#26a69a"/>
</g>
<line x1="6" y1="264.5" x2="1146" y2="264.5" stroke="#26a69a" stroke-width="1" stroke-dasharray="1 2" shape-rendering="crispEdges"/>
<rect x="710" y="246" width="436" height="4" fill="#0b2b99"/>
<polyline points="6,551.1 8.0,550.7 12.0,549.4 15.0,549.8 19.0,562.8 23.0,560.7 27.0,556.3 31.0,568.9 35.0,567.2 39.0,571.3 43.0,569.3 47.0,577.4 51.0,570.6 55.0,578.3 59.0,572.2 63.0,568.9 67.0,561.5 71.0,561.8 75.0,559.2 79.0,566.3 83.0,572.5 87.0,570.0 91.0,617.2 95.0,593.1 99.0,584.2 103.0,572.2 107.0,566.7 111.0,564.8 115.0,561.5 119.0,558.9 123.0,558.2 127.0,559.2 131.0,558.9 134.0,553.3 138.0,555.0 142.0,554.2 146.0,557.2 150.0,555.5 154.0,552.8 158.0,549.6 162.0,544.4 166.0,542.4 170.0,536.1 174.0,554.2 178.0,564.6 182.0,583.1 186.0,571.1 190.0,563.3 194.0,552.8 198.0,531.3 202.0,524.8 206.0,523.1 210.0,538.8 214.0,538.5 218.0,551.3 222.0,550.2 226.0,558.1 230.0,558.7 234.0,553.2 238.0,567.2 242.0,592.0 246.0,617.4 250.0,605.0 254.0,602.2 257.0,601.1 261.0,603.7 265.0,588.7 269.0,611.6 273.0,608.7 277.0,602.4 281.0,597.5 285.0,594.3 289.0,602.2 293.0,593.6 297.0,612.4 301.0,594.2 305.0,586.7 309.0,603.3 313.0,601.3 317.0,590.2 321.0,597.4 325.0,608.2 329.0,611.4 333.0,610.1 337.0,602.6 341.0,612.2 345.0,610.9 349.0,600.7 353.0,595.7 357.0,592.8 361.0,605.0 365.0,605.9 369.0,594.2 373.0,591.3 377.0,592.6 380.0,593.5 384.0,589.2 388.0,580.4 392.0,570.9 396.0,579.1 400.0,611.4 404.0,572.0 408.0,584.4 412.0,593.9 416.0,592.2 420.0,606.9 424.0,609.2 428.0,612.4 432.0,615.3 436.0,618.9 440.0,616.1 444.0,628.7 448.0,629.6 452.0,616.3 456.0,605.5 460.0,613.7 464.0,622.2 468.0,616.3 472.0,605.9 476.0,619.6 480.0,615.0 484.0,609.5 488.0,613.1 492.0,626.8 496.0,630.7 499.0,642.4 503.0,665.9 507.0,676.4 511.0,680.5 515.0,667.0 519.0,664.0 523.0,675.0 527.0,657.4 531.0,656.1 535.0,658.3 539.0,660.0 543.0,669.8 547.0,667.2 551.0,669.2 555.0,642.4 559.0,620.9 563.0,613.7 567.0,607.4 571.0,609.8 575.0,597.0 579.0,599.1 583.0,607.2 587.0,605.5 591.0,616.1 595.0,616.7 599.0,598.5 603.0,605.0 607.0,654.2 611.0,605.4 615.0,637.3 619.0,623.4 622.0,609.6 626.0,622.4 630.0,622.6 634.0,639.2 638.0,630.2 642.0,633.3 646.0,625.3 650.0,620.0 654.0,616.1 658.0,621.3 662.0,623.6 666.0,615.5 670.0,608.5 674.0,608.0 678.0,593.7 682.0,589.4 686.0,592.0 690.0,581.1 694.0,587.4 698.0,591.3 702.0,584.4 706.0,598.7 710.0,579.8 714.0,550.4 718.0,543.5 722.0,540.4 726.0,538.1 730.0,537.4 734.0,553.1 738.0,566.1 742.0,570.0 745.0,572.6 749.0,570.9 753.0,568.7 757.0,568.1 761.0,577.9 765.0,587.0 769.0,591.8 773.0,594.2 777.0,596.5 781.0,613.7 785.0,599.4 789.0,591.8 793.0,584.8 797.0,584.4 801.0,579.2 805.0,575.9 809.0,579.2 813.0,610.5 817.0,611.1 821.0,606.6 825.0,601.7 829.0,578.2 833.0,574.6 837.0,591.6 841.0,598.0 845.0,593.2 849.0,599.3 853.0,598.9 857.0,580.5 861.0,575.0 865.0,592.5 868.0,599.3 872.0,613.0 876.0,614.2 880.0,604.4 884.0,605.7 888.0,654.4 892.0,660.1 896.0,685.7 900.0,683.3" fill="none" stroke="#7e57c2" stroke-width="1" stroke-linejoin="round"/>
<g shape-rendering="crispEdges" stroke="#e3e5ec" stroke-width="1" fill="none">
<line x1="6" y1="502.5" x2="1216" y2="502.5"/>
<line x1="6" y1="703.5" x2="1216" y2="703.5"/>
<line x1="1146.5" y1="2" x2="1146.5" y2="731"/>
</g>
<rect x="5.75" y="1.75" width="1210.5" height="729.25" fill="none" stroke="#eaecf2" stroke-width="1.3"/>
<text x="1156.3" y="489.0" font-size="12" fill="#131722" font-weight="normal" text-anchor="start" textLength="47.9" lengthAdjust="spacingAndGlyphs">36000.00</text>
<text x="1156.3" y="449.32" font-size="12" fill="#131722" font-weight="normal" text-anchor="start" textLength="47.9" lengthAdjust="spacingAndGlyphs">36100.00</text>
<text x="1156.3" y="409.65" font-size="12" fill="#131722" font-weight="normal" text-anchor="start" textLength="47.9" lengthAdjust="spacingAndGlyphs">36200.00</text>
<text x="1156.3" y="369.97" font-size="12" fill="#131722" font-weight="normal" text-anchor="start" textLength="47.9" lengthAdjust="spacingAndGlyphs">36300.00</text>
<text x="1156.3" y="330.3" font-size="12" fill="#131722" font-weight="normal" text-anchor="start" textLength="47.9" lengthAdjust="spacingAndGlyphs">36400.00</text>
<text x="1156.3" y="290.62" font-size="12" fill="#131722" font-weight="normal" text-anchor="start" textLength="47.9" lengthAdjust="spacingAndGlyphs">36500.00</text>
<text x="1156.3" y="250.95" font-size="12" fill="#131722" font-weight="normal" text-anchor="start" textLength="47.9" lengthAdjust="spacingAndGlyphs">36600.00</text>
<text x="1156.3" y="211.28" font-size="12" fill="#131722" font-weight="normal" text-anchor="start" textLength="47.9" lengthAdjust="spacingAndGlyphs">36700.00</text>
<text x="1156.3" y="171.6" font-size="12" fill="#131722" font-weight="normal" text-anchor="start" textLength="47.9" lengthAdjust="spacingAndGlyphs">36800.00</text>
<text x="1156.3" y="131.93" font-size="12" fill="#131722" font-weight="normal" text-anchor="start" textLength="47.9" lengthAdjust="spacingAndGlyphs">36900.00</text>
<text x="1156.3" y="92.25" font-size="12" fill="#131722" font-weight="normal" text-anchor="start" textLength="47.9" lengthAdjust="spacingAndGlyphs">37000.00</text>
<text x="1156.3" y="52.57" font-size="12" fill="#131722" font-weight="normal" text-anchor="start" textLength="47.9" lengthAdjust="spacingAndGlyphs">37100.00</text>
<text x="1156.3" y="12.9" font-size="12" fill="#131722" font-weight="normal" text-anchor="start" textLength="47.9" lengthAdjust="spacingAndGlyphs">37200.00</text>
<text x="1156.3" y="702.7" font-size="12" fill="#131722" font-weight="normal" text-anchor="start" textLength="29" lengthAdjust="spacingAndGlyphs">20.00</text>
<text x="1156.3" y="650.0" font-size="12" fill="#131722" font-weight="normal" text-anchor="start" textLength="29" lengthAdjust="spacingAndGlyphs">40.00</text>
<text x="1156.3" y="597.7" font-size="12" fill="#131722" font-weight="normal" text-anchor="start" textLength="29" lengthAdjust="spacingAndGlyphs">60.00</text>
<text x="1156.3" y="544.7" font-size="12" fill="#131722" font-weight="normal" text-anchor="start" textLength="29" lengthAdjust="spacingAndGlyphs">80.00</text>
<rect x="1167.5" y="8.5" width="27" height="18" rx="3.5" fill="#fff" stroke="#d9dce4" stroke-width="1"/>
<text x="1171" y="21.7" font-size="12" fill="#131722" font-weight="normal" text-anchor="start" textLength="20" lengthAdjust="spacingAndGlyphs">USD</text>
<path d="M1146 239h63a2 2 0 0 1 2 2v15h-65z" fill="#0b2b99"/>
<text x="1156.3" y="252" font-size="12" fill="#fff" font-weight="bold" text-anchor="start" textLength="48.2" lengthAdjust="spacingAndGlyphs">36595.82</text>
<path d="M1146 256h65v29a2 2 0 0 1 -2 2h-63z" fill="#26a69a"/>
<text x="1156.3" y="268.7" font-size="12" fill="#fff" font-weight="bold" text-anchor="start" textLength="48.2" lengthAdjust="spacingAndGlyphs">36557.03</text>
<text x="1156.3" y="282.7" font-size="12" fill="#fff" font-weight="normal" text-anchor="start" textLength="29.4" lengthAdjust="spacingAndGlyphs" fill-opacity="0.8">14:28</text>
<path d="M1119 676h26v17h-26a2 2 0 0 1 -2 -2v-13a2 2 0 0 1 2 -2z" fill="#7e57c2"/>
<path d="M1146 676h44a2 2 0 0 1 2 2v13a2 2 0 0 1 -2 2h-44z" fill="#7e57c2"/>
<text x="1123.3" y="688.6" font-size="12" fill="#fff" font-weight="bold" text-anchor="start" textLength="15.8" lengthAdjust="spacingAndGlyphs">RSI</text>
<text x="1156.2" y="688.6" font-size="12" fill="#fff" font-weight="bold" text-anchor="start" textLength="29.2" lengthAdjust="spacingAndGlyphs">25.62</text>
<text x="95.0" y="721" font-size="12" fill="#131722" font-weight="normal" text-anchor="middle">27</text>
<text x="198.0" y="721" font-size="12" fill="#131722" font-weight="normal" text-anchor="middle">28</text>
<text x="301.0" y="721" font-size="12" fill="#131722" font-weight="normal" text-anchor="middle">29</text>
<text x="404.0" y="721" font-size="12" fill="#131722" font-weight="normal" text-anchor="middle">30</text>
<text x="507.0" y="721" font-size="12" fill="#131722" font-weight="normal" text-anchor="middle">31</text>
<text x="611.0" y="721" font-size="12" fill="#131722" font-weight="normal" text-anchor="middle" stroke="#131722" stroke-width="0.45" textLength="27" lengthAdjust="spacingAndGlyphs">2022</text>
<text x="714.0" y="721" font-size="12" fill="#131722" font-weight="normal" text-anchor="middle">4</text>
<text x="817.0" y="721" font-size="12" fill="#131722" font-weight="normal" text-anchor="middle">5</text>
<text x="920.0" y="721" font-size="12" fill="#131722" font-weight="normal" text-anchor="middle">6</text>
<text x="1023.0" y="721" font-size="12" fill="#131722" font-weight="normal" text-anchor="middle">7</text>
<text x="1126.0" y="721" font-size="12" fill="#131722" font-weight="normal" text-anchor="middle">10</text>
<rect x="230" y="5" width="27" height="20" fill="#fff"/>
<text x="14.2" y="20.8" font-size="12" fill="#131722" font-weight="normal" text-anchor="start" textLength="213.3" lengthAdjust="spacingAndGlyphs">Dow Jones Industrial Average Index, 15,</text>
<text x="260.9" y="20.8" font-size="12" fill="#131722" textLength="56.1" lengthAdjust="spacingAndGlyphs">O<tspan fill="#26a69a">36548.58</tspan></text>
<text x="324.9" y="20.8" font-size="12" fill="#131722" textLength="55.2" lengthAdjust="spacingAndGlyphs">H<tspan fill="#26a69a">36557.03</tspan></text>
<text x="388.6" y="20.8" font-size="12" fill="#131722" textLength="53.8" lengthAdjust="spacingAndGlyphs">L<tspan fill="#26a69a">36547.65</tspan></text>
<text x="450.3" y="20.8" font-size="12" fill="#131722" textLength="54.7" lengthAdjust="spacingAndGlyphs">C<tspan fill="#26a69a">36557.03</tspan></text>
<text x="512.9" y="20.8" font-size="12" fill="#26a69a" font-weight="normal" text-anchor="start" textLength="77.8" lengthAdjust="spacingAndGlyphs">+7.11 (+0.02%)</text>
<text x="1015.4" y="91.4" font-size="22" fill="#1b5e20" font-weight="normal" text-anchor="start" textLength="57.2" lengthAdjust="spacingAndGlyphs">FOMC</text>
<text x="1014.9" y="115.2" font-size="22" fill="#1b5e20" font-weight="normal" text-anchor="start" textLength="81.1" lengthAdjust="spacingAndGlyphs">Minutes</text>
<g stroke="#1b5e20" stroke-width="3.2" fill="none" stroke-linecap="butt" stroke-linejoin="round">
<line x1="1074.6" y1="137.1" x2="905.8" y2="172.1"/>
<polyline points="915.6,155.6 905.3,172.2 921.4,184.2"/>
</g>
<g fill="#131722">
<path d="M6.1 743.2h7.8v9.4h-4.2v-5.9h-3.6z"/>
<circle cx="16.7" cy="745.1" r="1.9"/>
<path d="M20 743.2h5.6l-4.1 9.4h-4.5z"/>
</g>
<text x="29.3" y="752.9" font-size="13" fill="#2a2e39" font-weight="normal" text-anchor="start" textLength="70" lengthAdjust="spacingAndGlyphs">TradingView</text>
</svg>
</body></html>
